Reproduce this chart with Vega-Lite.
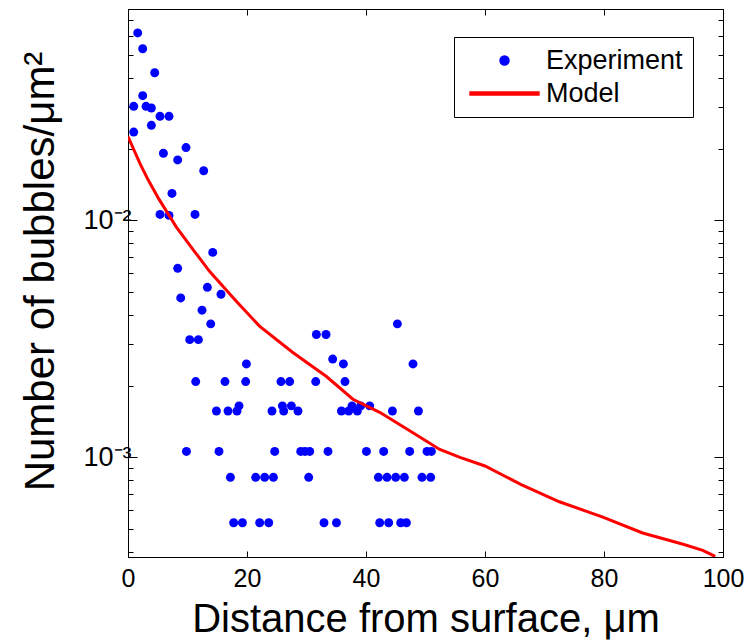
{
 "$schema": "https://vega.github.io/schema/vega-lite/v6.json",
 "width": 595,
 "height": 548,
 "autosize": "none",
 "padding": {"left": 128, "top": 9, "right": 26, "bottom": 85},
 "background": "white",
 "config": {
  "view": {"stroke": "black", "strokeWidth": 1},
  "font": "Liberation Sans",
  "axis": {"grid": false, "domainColor": "black", "tickColor": "black", "labelColor": "black", "titleColor": "black", "labelFont": "Liberation Sans", "titleFont": "Liberation Sans", "titleFontWeight": "normal", "labelOverlap": false, "labelFlush": false}
 },
 "datasets": {
  "exp": [
   {"distance": 1.63, "density": 0.0618, "series": "Experiment"},
   {"distance": 2.47, "density": 0.0530, "series": "Experiment"},
   {"distance": 4.49, "density": 0.0420, "series": "Experiment"},
   {"distance": 2.47, "density": 0.0336, "series": "Experiment"},
   {"distance": 0.96, "density": 0.0303, "series": "Experiment"},
   {"distance": 3.03, "density": 0.0303, "series": "Experiment"},
   {"distance": 3.93, "density": 0.0298, "series": "Experiment"},
   {"distance": 5.38, "density": 0.0275, "series": "Experiment"},
   {"distance": 6.89, "density": 0.0275, "series": "Experiment"},
   {"distance": 3.93, "density": 0.0252, "series": "Experiment"},
   {"distance": 0.96, "density": 0.0236, "series": "Experiment"},
   {"distance": 9.75, "density": 0.0203, "series": "Experiment"},
   {"distance": 5.95, "density": 0.0192, "series": "Experiment"},
   {"distance": 8.35, "density": 0.0180, "series": "Experiment"},
   {"distance": 12.72, "density": 0.0162, "series": "Experiment"},
   {"distance": 7.39, "density": 0.0130, "series": "Experiment"},
   {"distance": 5.38, "density": 0.0106, "series": "Experiment"},
   {"distance": 6.89, "density": 0.0105, "series": "Experiment"},
   {"distance": 11.26, "density": 0.0106, "series": "Experiment"},
   {"distance": 14.24, "density": 0.00733, "series": "Experiment"},
   {"distance": 8.35, "density": 0.00628, "series": "Experiment"},
   {"distance": 13.34, "density": 0.00522, "series": "Experiment"},
   {"distance": 8.86, "density": 0.00471, "series": "Experiment"},
   {"distance": 15.63, "density": 0.00488, "series": "Experiment"},
   {"distance": 12.44, "density": 0.00418, "series": "Experiment"},
   {"distance": 13.9, "density": 0.00366, "series": "Experiment"},
   {"distance": 10.37, "density": 0.00314, "series": "Experiment"},
   {"distance": 11.83, "density": 0.00314, "series": "Experiment"},
   {"distance": 19.9, "density": 0.00248, "series": "Experiment"},
   {"distance": 31.66, "density": 0.0033, "series": "Experiment"},
   {"distance": 33.28, "density": 0.0033, "series": "Experiment"},
   {"distance": 34.4, "density": 0.0026, "series": "Experiment"},
   {"distance": 36.2, "density": 0.00248, "series": "Experiment"},
   {"distance": 47.9, "density": 0.00248, "series": "Experiment"},
   {"distance": 45.28, "density": 0.00366, "series": "Experiment"},
   {"distance": 11.38, "density": 0.00209, "series": "Experiment"},
   {"distance": 16.3, "density": 0.00209, "series": "Experiment"},
   {"distance": 19.78, "density": 0.00209, "series": "Experiment"},
   {"distance": 25.71, "density": 0.00209, "series": "Experiment"},
   {"distance": 27.17, "density": 0.00209, "series": "Experiment"},
   {"distance": 31.55, "density": 0.00209, "series": "Experiment"},
   {"distance": 36.47, "density": 0.00209, "series": "Experiment"},
   {"distance": 18.66, "density": 0.00165, "series": "Experiment"},
   {"distance": 25.95, "density": 0.00165, "series": "Experiment"},
   {"distance": 27.46, "density": 0.00165, "series": "Experiment"},
   {"distance": 37.65, "density": 0.00165, "series": "Experiment"},
   {"distance": 39.11, "density": 0.00165, "series": "Experiment"},
   {"distance": 40.62, "density": 0.00165, "series": "Experiment"},
   {"distance": 14.86, "density": 0.00157, "series": "Experiment"},
   {"distance": 16.81, "density": 0.00157, "series": "Experiment"},
   {"distance": 18.32, "density": 0.00157, "series": "Experiment"},
   {"distance": 24.2, "density": 0.00157, "series": "Experiment"},
   {"distance": 26.17, "density": 0.00157, "series": "Experiment"},
   {"distance": 28.57, "density": 0.00157, "series": "Experiment"},
   {"distance": 35.87, "density": 0.00157, "series": "Experiment"},
   {"distance": 37.09, "density": 0.00157, "series": "Experiment"},
   {"distance": 38.55, "density": 0.00157, "series": "Experiment"},
   {"distance": 44.44, "density": 0.00157, "series": "Experiment"},
   {"distance": 48.81, "density": 0.00157, "series": "Experiment"},
   {"distance": 9.82, "density": 0.00106, "series": "Experiment"},
   {"distance": 15.29, "density": 0.00106, "series": "Experiment"},
   {"distance": 24.66, "density": 0.00106, "series": "Experiment"},
   {"distance": 29.03, "density": 0.00106, "series": "Experiment"},
   {"distance": 29.75, "density": 0.00106, "series": "Experiment"},
   {"distance": 30.54, "density": 0.00106, "series": "Experiment"},
   {"distance": 33.61, "density": 0.00106, "series": "Experiment"},
   {"distance": 40.07, "density": 0.00106, "series": "Experiment"},
   {"distance": 42.97, "density": 0.00106, "series": "Experiment"},
   {"distance": 47.34, "density": 0.00106, "series": "Experiment"},
   {"distance": 50.25, "density": 0.00106, "series": "Experiment"},
   {"distance": 50.99, "density": 0.00106, "series": "Experiment"},
   {"distance": 17.21, "density": 0.000824, "series": "Experiment"},
   {"distance": 21.46, "density": 0.000824, "series": "Experiment"},
   {"distance": 22.97, "density": 0.000824, "series": "Experiment"},
   {"distance": 24.44, "density": 0.000824, "series": "Experiment"},
   {"distance": 30.37, "density": 0.000824, "series": "Experiment"},
   {"distance": 42.08, "density": 0.000824, "series": "Experiment"},
   {"distance": 43.53, "density": 0.000824, "series": "Experiment"},
   {"distance": 44.99, "density": 0.000824, "series": "Experiment"},
   {"distance": 46.45, "density": 0.000824, "series": "Experiment"},
   {"distance": 49.41, "density": 0.000824, "series": "Experiment"},
   {"distance": 50.87, "density": 0.000824, "series": "Experiment"},
   {"distance": 17.76, "density": 0.00053, "series": "Experiment"},
   {"distance": 19.23, "density": 0.00053, "series": "Experiment"},
   {"distance": 22.13, "density": 0.00053, "series": "Experiment"},
   {"distance": 23.65, "density": 0.00053, "series": "Experiment"},
   {"distance": 32.94, "density": 0.00053, "series": "Experiment"},
   {"distance": 35.03, "density": 0.00053, "series": "Experiment"},
   {"distance": 42.3, "density": 0.00053, "series": "Experiment"},
   {"distance": 43.81, "density": 0.00053, "series": "Experiment"},
   {"distance": 45.83, "density": 0.00053, "series": "Experiment"},
   {"distance": 46.79, "density": 0.00053, "series": "Experiment"}
  ],
  "model": [
   {"distance": 0, "density": 0.0226, "series": "Model"},
   {"distance": 2, "density": 0.0174, "series": "Model"},
   {"distance": 3.4, "density": 0.0148, "series": "Model"},
   {"distance": 5.2, "density": 0.0123, "series": "Model"},
   {"distance": 8.1, "density": 0.0094, "series": "Model"},
   {"distance": 11, "density": 0.0075, "series": "Model"},
   {"distance": 13.7, "density": 0.0061, "series": "Model"},
   {"distance": 18.2, "density": 0.00456, "series": "Model"},
   {"distance": 22.1, "density": 0.00358, "series": "Model"},
   {"distance": 27.7, "density": 0.00277, "series": "Model"},
   {"distance": 32, "density": 0.00232, "series": "Model"},
   {"distance": 33.3, "density": 0.0022, "series": "Model"},
   {"distance": 37.8, "density": 0.00176, "series": "Model"},
   {"distance": 42.3, "density": 0.00155, "series": "Model"},
   {"distance": 46.8, "density": 0.00132, "series": "Model"},
   {"distance": 52.4, "density": 0.00108, "series": "Model"},
   {"distance": 55.8, "density": 0.001, "series": "Model"},
   {"distance": 60, "density": 0.00092, "series": "Model"},
   {"distance": 66, "density": 0.00077, "series": "Model"},
   {"distance": 72.5, "density": 0.00065, "series": "Model"},
   {"distance": 79.8, "density": 0.00056, "series": "Model"},
   {"distance": 86.5, "density": 0.00048, "series": "Model"},
   {"distance": 93.3, "density": 0.00043, "series": "Model"},
   {"distance": 96.6, "density": 0.000405, "series": "Model"},
   {"distance": 98.7, "density": 0.000382, "series": "Model"}
  ]
 },
 "layer": [
  {
   "data": {"name": "exp"},
   "mark": {"type": "point", "filled": true, "size": 80, "opacity": 1},
   "encoding": {
    "x": {"field": "distance", "type": "quantitative",
     "scale": {"domain": [0, 100], "nice": false, "zero": false},
     "axis": {"orient": "bottom", "values": [0, 20, 40, 60, 80, 100], "tickSize": -6, "labelFontSize": 25, "labelPadding": 15, "title": "Distance from surface, μm", "titleFontSize": 40, "titlePadding": 8}},
    "y": {"field": "density", "type": "quantitative",
     "scale": {"type": "log", "domain": [0.00038, 0.078], "nice": false},
     "axis": {"orient": "left",
      "values": [0.0004, 0.0005, 0.0006, 0.0007, 0.0008, 0.0009, 0.001, 0.002, 0.003, 0.004, 0.005, 0.006, 0.007, 0.008, 0.009, 0.01, 0.02, 0.03, 0.04, 0.05, 0.06, 0.07],
      "labelExpr": "datum.value == 0.01 ? '10⁻²' : (datum.value == 0.001 ? '10⁻³' : '')",
      "tickSize": {"condition": {"test": "datum.value == 0.01 || datum.value == 0.001", "value": -9}, "value": -5},
      "labelFontSize": 27, "labelPadding": 6,
      "title": "Number of bubbles/μm²", "titleFontSize": 42, "titlePadding": 20, "titleY": 262}},
    "color": {"field": "series", "type": "nominal",
     "scale": {"domain": ["Experiment", "Model"], "range": ["#0000ff", "#ff0000"]},
     "legend": {"title": null, "orient": "none", "legendX": 326, "legendY": 28,
      "strokeColor": "black", "fillColor": "white", "padding": 10, "cornerRadius": 0,
      "labelFontSize": 27, "labelFont": "Liberation Sans", "labelColor": "black",
      "symbolSize": 80, "symbolOffset": 27, "labelOffset": 28, "rowPadding": 5}},
    "shape": {"field": "series", "type": "nominal",
     "scale": {"domain": ["Experiment", "Model"], "range": ["circle", "M-7.7,-0.33H7.7V0.33H-7.7Z"]},
     "legend": {"title": null, "orient": "none", "legendX": 326, "legendY": 28,
      "strokeColor": "black", "fillColor": "white", "padding": 10, "cornerRadius": 0,
      "labelFontSize": 27, "labelFont": "Liberation Sans", "labelColor": "black",
      "symbolSize": 80, "symbolOffset": 27, "labelOffset": 28, "rowPadding": 5}}
   }
  },
  {
   "data": {"name": "model"},
   "mark": {"type": "line", "strokeWidth": 3, "clip": true},
   "encoding": {
    "x": {"field": "distance", "type": "quantitative",
     "axis": {"orient": "top", "values": [0, 20, 40, 60, 80, 100], "tickSize": -6, "labels": false, "title": null}},
    "y": {"field": "density", "type": "quantitative",
     "axis": {"orient": "right",
      "values": [0.0004, 0.0005, 0.0006, 0.0007, 0.0008, 0.0009, 0.001, 0.002, 0.003, 0.004, 0.005, 0.006, 0.007, 0.008, 0.009, 0.01, 0.02, 0.03, 0.04, 0.05, 0.06, 0.07],
      "tickSize": {"condition": {"test": "datum.value == 0.01 || datum.value == 0.001", "value": -9}, "value": -5},
      "labels": false, "title": null}},
    "color": {"field": "series", "type": "nominal"}
   }
  }
 ],
 "resolve": {"axis": {"x": "independent", "y": "independent"}}
}
